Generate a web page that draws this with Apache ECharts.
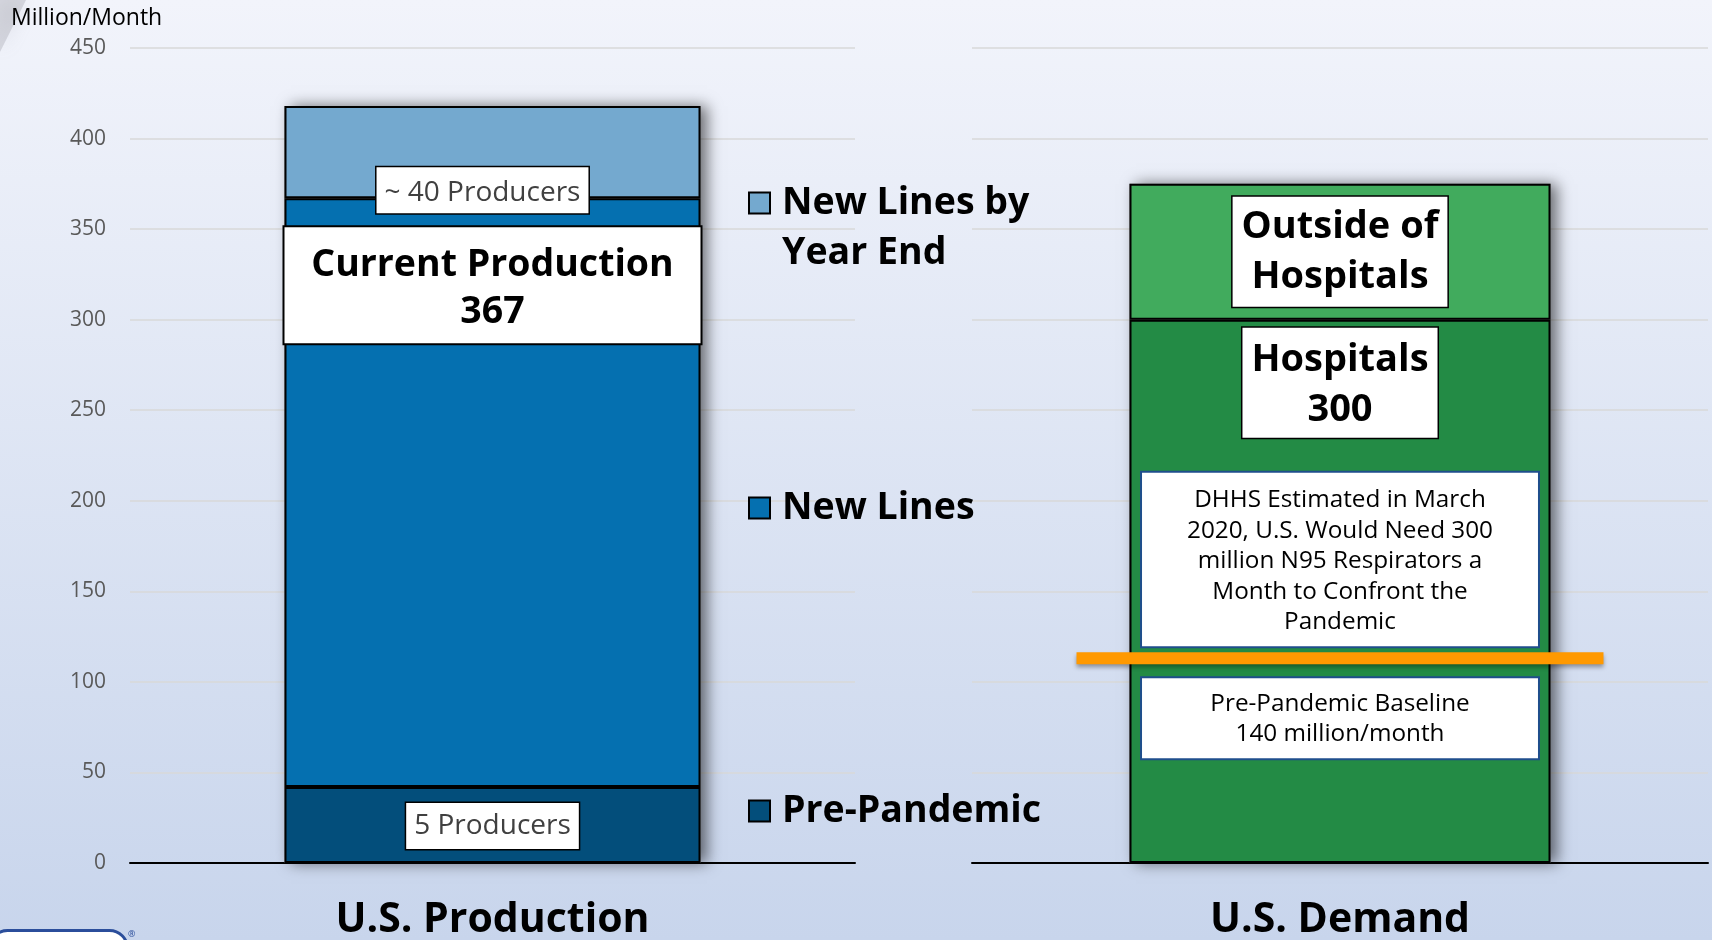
<!DOCTYPE html>
<html>
<head>
<meta charset="utf-8">
<script src="https://cdn.jsdelivr.net/npm/echarts@6/dist/echarts.min.js"></script>
<style>
  html, body { margin: 0; padding: 0; }
  #chart { width: 1712px; height: 940px; }
</style>
</head>
<body>
<div id="chart"></div>
<script>
// categories
const productionCat = ['U.S. Production']
const demandCat = ['U.S. Demand']
const yTicks = { min: 0, max: 450, interval: 50 }

// production stack (million / month)
const prePandemic = [42]
const newLines = [325]
const newLinesYearEnd = [51]

// demand stack
const hospitals = [300]
const outsideHospitals = [75]
const demandMarker = [113]

const FONT = 'Open Sans'
const chart = echarts.init(document.getElementById('chart'))

const boxLabel = {
  show: true,
  backgroundColor: '#fff',
  borderColor: '#000',
  borderWidth: 1.5,
  fontFamily: FONT
}
const barBase = {
  type: 'bar',
  barWidth: 416,
  itemStyle: { borderColor: '#000', borderWidth: 2 }
}

function legendAt (name, top, multi) {
  return {
    data: [name],
    left: 748,
    top: top,
    padding: 0,
    orient: 'vertical',
    icon: 'rect',
    itemWidth: 21,
    itemHeight: 21,
    selectedMode: false,
    // empty first line keeps the square level with "New Lines by"
    formatter: multi ? '\nNew Lines by\nYear End' : '{name}',
    textStyle: {
      fontFamily: FONT,
      fontWeight: 'bold',
      fontSize: 37.5,
      color: '#000',
      lineHeight: multi ? 50 : 44,
      padding: [0, 0, 0, 7]
    }
  }
}

const totalProd = prePandemic[0] + newLines[0] + newLinesYearEnd[0]
const totalDem = hospitals[0] + outsideHospitals[0]

chart.setOption({
  backgroundColor: {
    type: 'linear', x: 0, y: 0, x2: 0, y2: 1,
    colorStops: [{ offset: 0, color: '#f2f4fb' }, { offset: 1, color: '#c8d5ec' }]
  },
  animation: false,
  title: {
    text: 'Million/Month',
    left: 11,
    top: 7,
    padding: 0,
    textStyle: { fontFamily: FONT, fontSize: 23, fontWeight: 'normal', color: '#000' }
  },
  legend: [
    legendAt('New Lines by Year End', 128, true),
    legendAt('New Lines', 486, false),
    legendAt('Pre-Pandemic', 789, false)
  ],
  grid: [
    { left: 130, right: 857, top: 48, bottom: 77, outerBoundsMode: 'none' },
    { left: 972, right: 4, top: 48, bottom: 77, outerBoundsMode: 'none' }
  ],
  xAxis: [0, 1].map(i => ({
    type: 'category',
    gridIndex: i,
    data: i === 0 ? productionCat : demandCat,
    axisTick: { show: false },
    axisLine: { lineStyle: { color: '#000', width: 2 } },
    axisLabel: { fontFamily: FONT, fontWeight: 'bold', fontSize: 41, color: '#000', margin: 37 }
  })),
  yAxis: [0, 1].map(i => ({
    type: 'value',
    gridIndex: i,
    min: yTicks.min,
    max: yTicks.max,
    interval: yTicks.interval,
    axisLine: { show: false },
    axisTick: { show: false },
    axisLabel: { show: i === 0, fontFamily: FONT, fontSize: 21, color: '#595959', margin: 24 },
    splitLine: { lineStyle: { color: '#d9d9d9', width: 1.5 } }
  })),
  series: [
    // drop shadow behind the production column
    {
      type: 'bar', xAxisIndex: 0, yAxisIndex: 0, barWidth: 416, barGap: '-100%',
      data: [totalProd], silent: true,
      itemStyle: { color: '#777', shadowColor: 'rgba(0,0,0,0.55)', shadowBlur: 14, shadowOffsetX: 6 }
    },
    {
      ...barBase, name: 'Pre-Pandemic', stack: 'prod', xAxisIndex: 0, yAxisIndex: 0,
      data: prePandemic,
      itemStyle: { ...barBase.itemStyle, color: '#034e7b' },
      label: { ...boxLabel, position: 'inside', offset: [0, 1], formatter: '5 Producers', fontSize: 28, color: '#404040', padding: [12, 8, 6, 8] }
    },
    {
      ...barBase, name: 'New Lines', stack: 'prod', xAxisIndex: 0, yAxisIndex: 0,
      data: newLines,
      itemStyle: { ...barBase.itemStyle, color: '#0570b0' },
      label: {
        ...boxLabel, position: 'insideTop', distance: 29,
        formatter: () => 'Current Production\n' + (prePandemic[0] + newLines[0]),
        width: 416, align: 'center', fontSize: 37.5, fontWeight: 'bold', color: '#000',
        lineHeight: 47, padding: [14, 0, 8, 0], borderWidth: 2
      }
    },
    {
      ...barBase, name: 'New Lines by Year End', stack: 'prod', xAxisIndex: 0, yAxisIndex: 0,
      data: newLinesYearEnd,
      itemStyle: { ...barBase.itemStyle, color: '#74a9cf' },
      label: {
        ...boxLabel, position: 'insideBottom', distance: -15, offset: [-10, 0],
        formatter: '~ 40 Producers', fontSize: 28, color: '#404040', padding: [12, 8, 6, 8]
      }
    },
    // drop shadow behind the demand column
    {
      type: 'bar', xAxisIndex: 1, yAxisIndex: 1, barWidth: 421, barGap: '-100%',
      data: [totalDem], silent: true,
      itemStyle: { color: '#777', shadowColor: 'rgba(0,0,0,0.55)', shadowBlur: 14, shadowOffsetX: 6 }
    },
    {
      ...barBase, barWidth: 421, name: 'Hospitals', stack: 'dem', xAxisIndex: 1, yAxisIndex: 1,
      data: hospitals,
      itemStyle: { ...barBase.itemStyle, color: '#238b45' },
      label: {
        ...boxLabel, position: 'insideTop', distance: 8,
        formatter: p => 'Hospitals\n' + p.value,
        fontSize: 38, fontWeight: 'bold', color: '#000', lineHeight: 50, padding: [8, 9, 2, 9]
      }
    },
    {
      ...barBase, barWidth: 421, name: 'Outside of Hospitals', stack: 'dem', xAxisIndex: 1, yAxisIndex: 1,
      data: outsideHospitals,
      itemStyle: { ...barBase.itemStyle, color: '#41ab5d' },
      label: {
        ...boxLabel, position: 'inside',
        formatter: 'Outside of\nHospitals',
        fontSize: 38, fontWeight: 'bold', color: '#000', lineHeight: 50, padding: [8, 9, 2, 9]
      }
    },
    // orange marker with the two notes around it
    {
      type: 'custom', xAxisIndex: 1, yAxisIndex: 1, silent: true, z: 10,
      data: demandMarker.map((v, i) => [i, v]),
      renderItem (params, api) {
        const c = api.coord([api.value(0), api.value(1)])
        const band = api.size([1, 0])[0]
        const half = band * 0.358
        const boxW = band * 0.538
        const note = {
          fontFamily: FONT, fontSize: 24.3, lineHeight: 30.5, fill: '#000',
          backgroundColor: '#fff', borderColor: '#1f4e8c', borderWidth: 2,
          width: boxW - 4, align: 'center'
        }
        return {
          type: 'group',
          children: [
            {
              type: 'line',
              shape: { x1: c[0] - half, y1: c[1], x2: c[0] + half, y2: c[1] },
              style: { stroke: '#ff9900', lineWidth: 12, shadowColor: 'rgba(0,0,0,0.35)', shadowBlur: 4, shadowOffsetY: 3 }
            },
            {
              type: 'text', x: c[0], y: c[1] - 12,
              style: {
                ...note, verticalAlign: 'bottom', padding: [12, 2, 9, 2],
                text: 'DHHS Estimated in March\n2020, U.S. Would Need 300\nmillion N95 Respirators a\nMonth to Confront the\nPandemic'
              }
            },
            {
              type: 'text', x: c[0], y: c[1] + 20,
              style: { ...note, verticalAlign: 'top', padding: [10, 2, 9, 2], text: 'Pre-Pandemic Baseline\n140 million/month' }
            }
          ]
        }
      }
    }
  ],
  graphic: [
    {
      type: 'polygon', silent: true,
      shape: { points: [[0, 0], [26, 0], [0, 52]] },
      style: { fill: 'rgba(150,150,160,0.3)', shadowColor: 'rgba(150,150,160,0.6)', shadowBlur: 18 }
    },
    {
      type: 'rect', left: -12, top: 929, shape: { width: 138, height: 40, r: 18 },
      style: { fill: '#fff', stroke: '#2b4e9b', lineWidth: 3 }
    },
    {
      type: 'text', left: 128, top: 930,
      style: { text: '®', fontSize: 9, fill: '#2b4e9b', fontFamily: FONT }
    }
  ]
})
</script>
</body>
</html>
